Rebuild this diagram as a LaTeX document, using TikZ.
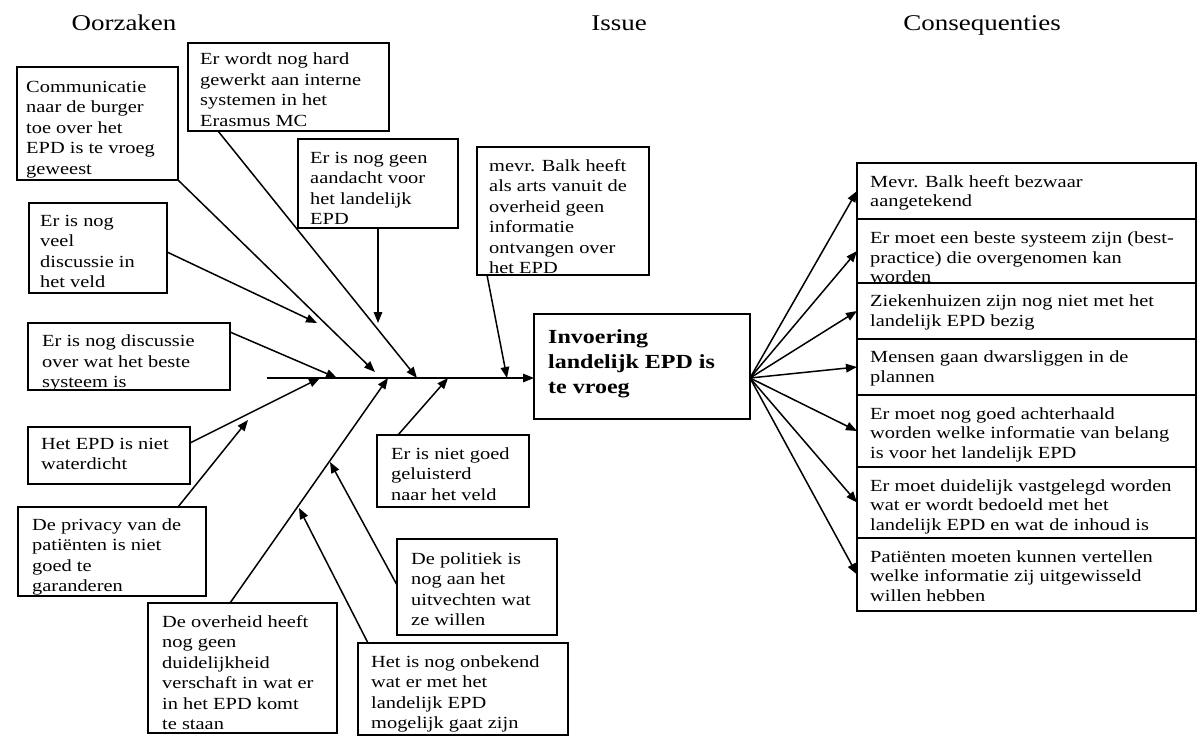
\documentclass[tikz,border=0pt]{standalone}
\usepackage{fontspec}
\setmainfont{Liberation Serif}[FakeStretch=1.2]
\usetikzlibrary{arrows.meta,calc}

% box: name, x1, y1, x2, y2, text pad x, text pad y, text, extra text style
\newcommand\cbox[9]{%
  \node[box, minimum width={(#4)-(#2)}, minimum height={(#5)-(#3)}] (#1) at (#2,#3) {};
  \node[txt,#9] (#1t) at ($(#1.north west)+(#6,#7)$) {#8};
}

\begin{document}
\begin{tikzpicture}[x=1pt,y=-1pt,
  box/.style={draw=black, line width=1.1pt, rectangle, inner sep=0pt, outer sep=0pt, anchor=north west},
  txt/.style={inner sep=0pt, anchor=north west, align=left, font=\fontsize{17}{20.5}\selectfont},
  celltxt/.style={font=\fontsize{17}{19.5}\selectfont},
  issuetxt/.style={font=\fontsize{20}{25}\selectfont\bfseries},
  title/.style={font=\fontsize{22.5}{27}\selectfont, anchor=base, inner sep=0pt},
  arr/.style={line width=1.5pt, -{Triangle[length=11pt,width=8.5pt]}},
]
\useasboundingbox (0,0) rectangle (1197,736);

% column headings
\node[title] (hcause) at (124,30) {Oorzaken};
\node[title] (hissue) at (619,30) {Issue};
\node[title] (hcons)  at (982,30) {Consequenties};

% causes
\cbox{b1}{17}{67}{178}{180}{9}{14}{Communicatie\\naar de burger\\toe over het\\EPD is te vroeg\\geweest}{}
\cbox{b2}{188}{43}{389}{131}{12}{10}{Er wordt nog hard\\gewerkt aan interne\\systemen in het\\Erasmus MC}{}
\cbox{b3}{298}{139}{458}{228}{12}{13}{Er is nog geen\\aandacht voor\\het landelijk\\EPD}{}
\cbox{b4}{29}{203}{167}{293}{11}{12}{Er is nog\\veel\\discussie in\\het veld}{}
\cbox{b5}{28}{323}{230}{390}{14}{12}{Er is nog discussie\\over wat het beste\\systeem is}{}
\cbox{b6}{28}{427}{190}{484}{13}{11}{Het EPD is niet\\waterdicht}{}
\cbox{b7}{18}{507}{206}{596}{14}{11}{De privacy van de\\patiënten is niet\\goed te\\garanderen}{}
\cbox{b8}{148}{603}{337}{733}{14}{12}{De overheid heeft\\nog geen\\duidelijkheid\\verschaft in wat er\\in het EPD komt\\te staan}{}
\cbox{b9}{358}{643}{568}{735}{13}{12}{Het is nog onbekend\\wat er met het\\landelijk EPD\\mogelijk gaat zijn}{}
\cbox{b10}{397}{539}{557}{635}{14}{13}{De politiek is\\nog aan het\\uitvechten wat\\ze willen}{}
\cbox{b11}{377}{435}{529}{507}{14}{12}{Er is niet goed\\geluisterd\\naar het veld}{}
\cbox{b12}{477}{147}{649}{275}{12}{12}{mevr. Balk heeft\\als arts vanuit de\\overheid geen\\informatie\\ontvangen over\\het EPD}{}

% issue
\cbox{main}{534}{314}{750}{419}{14}{15}{Invoering\\landelijk EPD is\\te vroeg}{issuetxt}

% consequences
\cbox{r1}{857}{163}{1196}{219}{13}{12}{Mevr. Balk heeft bezwaar\\aangetekend}{celltxt}
\cbox{r2}{857}{219}{1196}{283}{13}{13}{Er moet een beste systeem zijn (best-\\practice) die overgenomen kan\\worden}{celltxt}
\cbox{r3}{857}{283}{1196}{339}{13}{12}{Ziekenhuizen zijn nog niet met het\\landelijk EPD bezig}{celltxt}
\cbox{r4}{857}{339}{1196}{395}{13}{12}{Mensen gaan dwarsliggen in de\\plannen}{celltxt}
\cbox{r5}{857}{395}{1196}{467}{13}{12}{Er moet nog goed achterhaald\\worden welke informatie van belang\\is voor het landelijk EPD}{celltxt}
\cbox{r6}{857}{467}{1196}{538}{13}{12}{Er moet duidelijk vastgelegd worden\\wat er wordt bedoeld met het\\landelijk EPD en wat de inhoud is}{celltxt}
\cbox{r7}{857}{538}{1196}{611}{13}{12}{Patiënten moeten kunnen vertellen\\welke informatie zij uitgewisseld\\willen hebben}{celltxt}

% spine
\coordinate (spineL) at (267,378);
\draw[arr] (spineL) -- (spineL -| main.west);

% arrow ends of the bones
\coordinate (e1) at (375,372);
\coordinate (e2) at (417,378);
\coordinate (e3) at (378,323);
\coordinate (e4) at (317,323);
\coordinate (e5) at (337,378);
\coordinate (e6) at (320,378);
\coordinate (e7) at (248,420);
\coordinate (e8) at (388,378);
\coordinate (e9) at (299,508);
\coordinate (e10) at (330,462);
\coordinate (e11) at (448,378);
\coordinate (e12) at (507,378);

\draw[arr] (b1.south east) -- (e1);
\draw[arr] ($(b2.south west)+(30,0)$) -- (e2);
\draw[arr] ($(b3.south west)+(80,0)$) -- (e3);
\draw[arr] ($(b4.north east)+(0,49)$) -- (e4);
\draw[arr] ($(b5.north east)+(0,9)$) -- (e5);
\draw[arr] ($(b6.north east)+(0,16)$) -- (e6);
\draw[arr] ($(b7.north west)+(160,0)$) -- (e7);
\draw[arr] ($(b8.north west)+(82,0)$) -- (e8);
\draw[arr] ($(b9.north west)+(10,0)$) -- (e9);
\draw[arr] ($(b10.north west)+(0,46)$) -- (e10);
\draw[arr] ($(b11.north west)+(21,0)$) -- (e11);
\draw[arr] ($(b12.south west)+(10,0)$) -- (e12);

% consequences fan
\coordinate (fan) at (main.east |- spineL);
\foreach \r in {r1,r2,r3,r4,r5,r6,r7}
  \draw[arr] (fan) -- (\r.west);
\end{tikzpicture}
\end{document}
